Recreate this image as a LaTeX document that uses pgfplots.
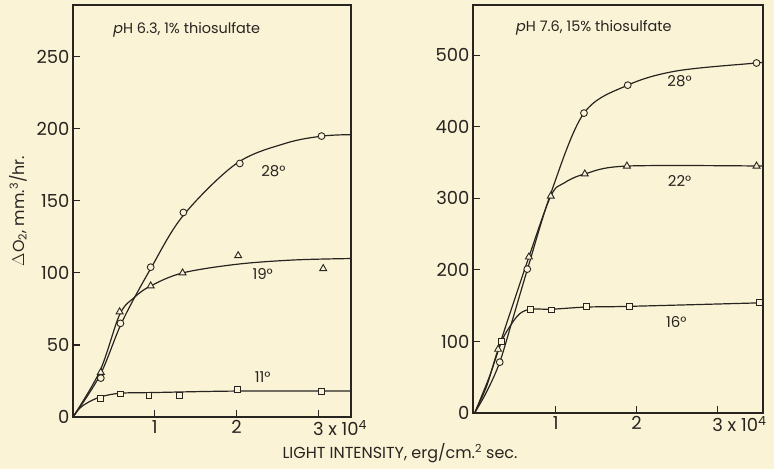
\documentclass[border=0pt]{standalone}
\usepackage{pgfplots}
\pgfplotsset{compat=1.18}
\usepackage{fontspec}
\setmainfont{Poppins}
\definecolor{bg}{RGB}{251,243,214}
\definecolor{ink}{RGB}{40,36,32}
\pgfplotsset{
  mystyle/.style={
    scale only axis,
    axis line style={ink, line width=1.3bp},
    tick style={ink, line width=1.1bp},
    tick align=inside, major tick length=7bp,
    ytick pos=left, xtick pos=bottom,
    every tick label/.append style={font=\fontsize{18}{18}\selectfont, text=ink},
    /pgf/number format/assume math mode=true,
    xtick={1,2,3},
    xticklabels={1,2,{3\rlap{ x 10\textsuperscript{4}}}},
  },
  crv/.style={ink, line width=1.2bp, smooth, tension=0.55},
  circ/.style={only marks, mark=*, mark size=3.4bp, mark options={fill=bg, draw=ink, line width=0.9bp}},
  tri/.style={only marks, mark=triangle*, mark size=4bp, mark options={fill=bg, draw=ink, line width=0.9bp}},
  sq/.style={only marks, mark=square*, mark size=2.9bp, mark options={fill=bg, draw=ink, line width=0.9bp}},
}
\begin{document}
\begin{tikzpicture}
\fill[bg] (0bp,0bp) rectangle (774bp,469bp);

% ---------------- left panel ----------------
\begin{axis}[mystyle, at={(73bp,52bp)}, anchor=south west, width=278bp, height=412bp,
  xmin=0, xmax=3.4, ymin=0, ymax=286, ytick={0,50,...,250}]
% 28 deg
\addplot[crv] coordinates {(0,0) (0.33,29) (0.6,66) (0.95,103) (1.35,140) (2.0,176) (2.6,190) (3.05,195) (3.4,196)};
\addplot[circ] coordinates {(0.34,27) (0.58,65) (0.95,104) (1.35,142) (2.04,176) (3.04,195)};
% 19 deg
\addplot[crv] coordinates {(0,0) (0.33,32) (0.57,71) (0.75,83) (0.95,91) (1.34,100) (2.0,106) (2.7,109) (3.4,110)};
\addplot[tri] coordinates {(0.34,31) (0.57,73) (0.95,91) (1.34,100) (2.02,112) (3.06,103)};
% 11 deg
\addplot[crv] coordinates {(0,0) (0.08,6) (0.18,10) (0.34,14) (0.58,16.5) (1.0,17) (2.0,18) (3.4,18)};
\addplot[sq] coordinates {(0.34,13) (0.58,16) (0.93,15) (1.3,15) (2.01,19) (3.04,18)};
\node[anchor=west, text=ink, font=\fontsize{14.5}{14.5}\selectfont] at (axis cs:0.45,269) {\textit{p}H 6.3, 1\% thiosulfate};
\node[text=ink, font=\fontsize{15}{15}\selectfont] at (axis cs:2.45,171) {28°};
\node[text=ink, font=\fontsize{15}{15}\selectfont] at (axis cs:2.32,99) {19°};
\node[text=ink, font=\fontsize{15}{15}\selectfont] at (axis cs:2.32,28) {11°};
\end{axis}

% ---------------- right panel ----------------
\begin{axis}[mystyle, at={(473bp,56bp)}, anchor=south west, width=290bp, height=408bp,
  xmin=-0.02, xmax=3.56, ymin=0, ymax=570, ytick={0,100,...,500}]
% 28 deg
\addplot[crv] coordinates {(0,0) (0.15,30) (0.31,71) (0.48,135) (0.65,200) (0.95,310) (1.35,419) (1.89,458) (2.5,478) (3.48,489) (3.56,490)};
\addplot[circ] coordinates {(0.31,71) (0.65,201) (1.35,419) (1.89,458) (3.48,489)};
% 22 deg
\addplot[crv] coordinates {(0,0) (0.15,38) (0.29,89) (0.67,218) (0.94,303) (1.1,321) (1.36,334) (1.88,345) (3.56,345)};
\addplot[tri] coordinates {(0.29,89) (0.67,218) (0.94,303) (1.36,334) (1.88,345) (3.48,345)};
% 16 deg
\addplot[crv] coordinates {(0,0) (0.18,50) (0.33,99) (0.43,120) (0.55,138) (0.69,145) (0.95,145) (1.38,148) (1.91,149) (3.56,154)};
\addplot[sq] coordinates {(0.33,100) (0.69,145) (0.95,144) (1.38,149) (1.91,149) (3.52,155)};
\node[anchor=west, text=ink, font=\fontsize{14.5}{14.5}\selectfont] at (axis cs:0.47,538) {\textit{p}H 7.6, 15\% thiosulfate};
\node[text=ink, font=\fontsize{15}{15}\selectfont] at (axis cs:2.53,464) {28°};
\node[text=ink, font=\fontsize{15}{15}\selectfont] at (axis cs:2.53,324) {22°};
\node[text=ink, font=\fontsize{15}{15}\selectfont] at (axis cs:2.49,127) {16°};
\end{axis}

\node[rotate=90, text=ink, font=\fontsize{16}{16}\selectfont] at (18bp,258bp) {$\Delta$O\textsubscript{2}, mm.\textsuperscript{3}/hr.};
\node[text=ink, font=\fontsize{16}{16}\selectfont] at (400bp,16bp) {LIGHT INTENSITY, erg/cm.\textsuperscript{2} sec.};
\useasboundingbox (0bp,0bp) rectangle (774bp,469bp);
\end{tikzpicture}
\end{document}
